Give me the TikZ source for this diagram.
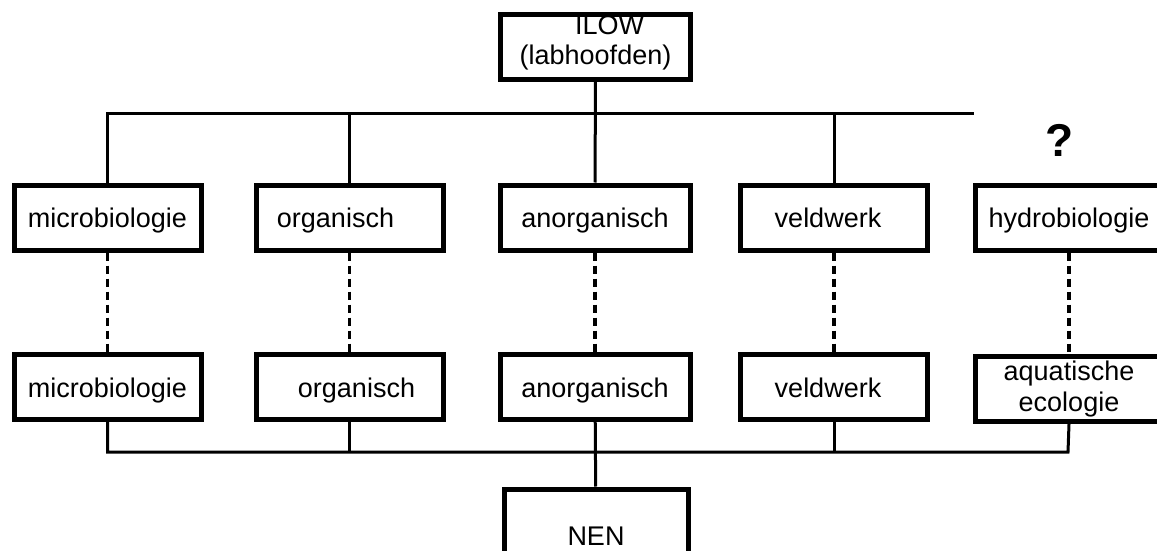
\documentclass[tikz,border=0pt]{standalone}
\usepackage{fontspec}
\setmainfont{Liberation Sans}
\usetikzlibrary{positioning}

\begin{document}
\begin{tikzpicture}[
	x=1pt, y=-1pt,
	unit/.style = {draw, rectangle, align=center, line width=5pt, inner sep=0pt,
		minimum width=187pt, minimum height=65pt, font=\fontsize{27}{30}\selectfont},
	line1/.style = {text height=22pt, text depth=2pt},
	conn/.style = {draw, line width=3pt},
	link/.style = {draw, line width=3.5pt, dash pattern=on 8pt off 5pt}
]
  \useasboundingbox (0,0) rectangle (1157,551);

  % Define vertices
  \node[unit, minimum width=190pt] at (595.5, 47) (ilow)
    {\hspace*{28pt}ILOW\\(labhoofden)\rule[-14pt]{0pt}{0pt}};

  \node[unit, line1] at (107.5, 217.5) (microT) {microbiologie};
  \node[unit, line1] at (349.5, 217.5) (orgaT) {organisch\hspace*{28pt}};
  \node[unit, line1, minimum width=190pt] at (595, 217.5) (anorgT) {anorganisch};
  \node[unit, line1] at (834, 217.5) (veldT) {veldwerk\hspace*{12pt}};
  \node[unit, line1] at (1069, 217.5) (hydroT) {hydrobiologie};
  \node[font=\bfseries\fontsize{46}{50}\selectfont] at (1060, 140) (vraag) {?};

  \node[unit, line1] at (107.5, 387) (microB) {microbiologie};
  \node[unit, line1] at (349.5, 387) (orgaB) {\hspace*{14pt}organisch};
  \node[unit, line1, minimum width=190pt] at (595, 387) (anorgB) {anorganisch};
  \node[unit, line1] at (834, 387) (veldB) {veldwerk\hspace*{12pt}};
  \node[unit, font=\fontsize{27}{31}\selectfont] at (1069, 389) (aquaB) {aquatische\\ecologie};

  \node[unit, line1, minimum width=184pt, minimum height=92pt] at (596, 535) (nen) {NEN};

  \coordinate (tbR) at (974, 113);
  \coordinate (bbR) at (1068, 452);

  % Edges
  \draw[conn] (ilow) -- (anorgT);
  \draw[conn] (microT.north) |- (tbR);
  \draw[conn] (orgaT.north) -- (orgaT.north |- tbR);
  \draw[conn] (veldT.north) -- (veldT.north |- tbR);

  \foreach \u in {micro, orga, anorg, veld}
    \draw[link] (\u T.south) -- (\u B.north);
  \draw[link] (hydroT.south) -- (aquaB.north);

  \draw[conn] (microB.south) |- (bbR) -- (aquaB.south);
  \draw[conn] (orgaB.south) -- (orgaB.south |- bbR);
  \draw[conn] (veldB.south) -- (veldB.south |- bbR);
  \draw[conn] (anorgB) -- (nen);
\end{tikzpicture}
\end{document}
